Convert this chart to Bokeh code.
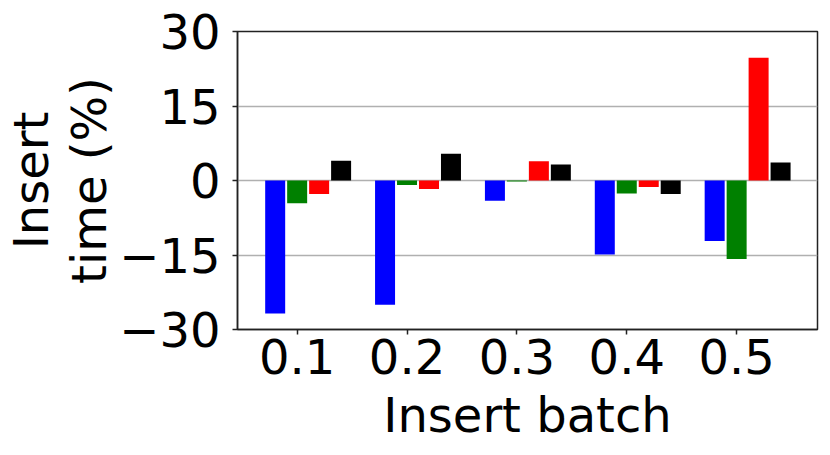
from bokeh.plotting import figure
from bokeh.models import Range1d, FixedTicker, ColumnDataSource, Title
from bokeh.transform import dodge
from bokeh.embed import file_html
from bokeh.resources import INLINE

batches = ["0.1", "0.2", "0.3", "0.4", "0.5"]
series_a = [-26.8, -25.0, -4.1, -14.9, -12.2]   # blue
series_b = [-4.6, -0.9, -0.2, -2.6, -15.8]      # green
series_c = [-2.7, -1.7, 3.9, -1.3, 24.7]        # red
series_d = [4.0, 5.4, 3.2, -2.7, 3.6]           # black
colors = ["blue", "green", "red", "black"]
y_ticks = [-30, -15, 0, 15, 30]
y_title_lines = ["Insert", "time (%)"]
x_title = "Insert batch"

idx = list(range(len(batches)))
src = ColumnDataSource(dict(x=idx, a=series_a, b=series_b, c=series_c, d=series_d))

FONT = "DejaVu Sans"
FS = "48px"

p = figure(width=830, height=455, output_backend="svg", toolbar_location=None,
           x_range=Range1d(-0.543, 4.736), y_range=Range1d(-30, 30),
           min_border_left=237, min_border_right=13, min_border_top=31, min_border_bottom=126)

bw = 0.182
offs = [-0.2, 0.0, 0.2, 0.4]
for key, off, col in zip(["a", "b", "c", "d"], offs, colors):
    p.vbar(x=dodge("x", off), top=key, bottom=0, width=bw, source=src,
           fill_color=col, line_color=None)

p.xgrid.visible = False
p.ygrid.grid_line_color = "#b0b0b0"
p.ygrid.grid_line_width = 1.5
p.ygrid.ticker = FixedTicker(ticks=y_ticks)

p.outline_line_color = "#222222"
p.outline_line_width = 1.5
p.outline_line_alpha = 1.0

p.xaxis.ticker = FixedTicker(ticks=idx)
p.xaxis.major_label_overrides = {i: b for i, b in zip(idx, batches)}
p.yaxis.ticker = FixedTicker(ticks=y_ticks)
p.yaxis.major_label_overrides = {t: (str(t).replace("-", "\u2212")) for t in y_ticks}

for ax in (p.xaxis[0], p.yaxis[0]):
    ax.axis_line_color = "#222222"
    ax.axis_line_width = 1.5
    ax.major_tick_line_color = "#222222"
    ax.major_tick_line_width = 1.5
    ax.major_tick_out = 5
    ax.major_tick_in = 0
    ax.minor_tick_line_color = None
    ax.major_label_text_font = FONT
    ax.major_label_text_font_size = FS
    ax.major_label_text_color = "black"
    ax.axis_label_text_font = FONT
    ax.axis_label_text_font_size = FS
    ax.axis_label_text_font_style = "normal"
    ax.axis_label_text_color = "black"

p.xaxis.axis_label = x_title
p.xaxis.major_label_standoff = 4
p.yaxis.major_label_standoff = 12
p.xaxis.axis_label_standoff = 10

# two-line y-axis title as stacked left-side titles (inner line first)
for line in reversed(y_title_lines):
    p.add_layout(Title(text=line, align="center", text_font=FONT, text_font_size=FS,
                       text_font_style="normal", text_color="black",
                       standoff=0, offset=0), "left")

open("out.html", "w").write(file_html(p, INLINE))
